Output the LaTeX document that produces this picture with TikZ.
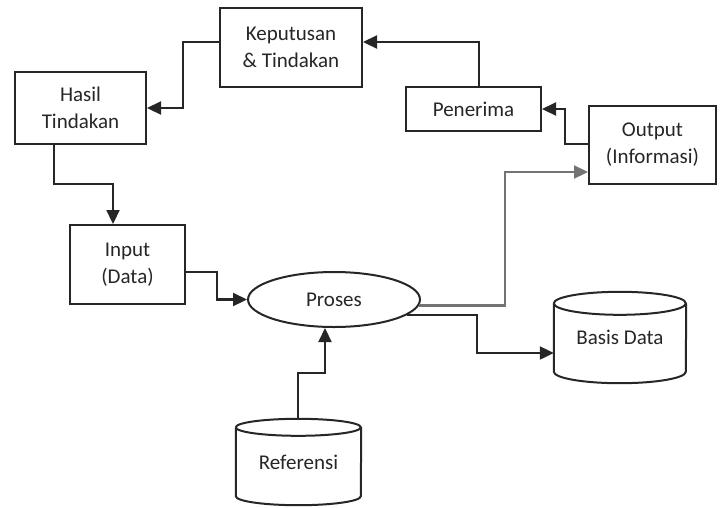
\documentclass[tikz,border=0pt]{standalone}
\usepackage{fontspec}
\setmainfont{Carlito}
\usetikzlibrary{arrows.meta,calc,shapes.geometric}
\begin{document}
\begin{tikzpicture}[x=1pt,y=-1pt,
  every node/.style={font=\fontsize{21}{27}\selectfont, text=black!85},
  box/.style={draw=black!85, line width=2pt, inner sep=0pt, align=center},
  oval/.style={ellipse, draw=black!85, line width=2pt, inner sep=0pt},
  cyl/.style={draw=black!85, line width=2pt},
  conn/.style={draw=black!85, line width=2.2pt, -{Triangle[length=14pt,width=13pt]}},
  lconn/.style={conn, draw=black!55, -{Triangle[length=14pt,width=13pt,fill=black!55]}},
]
\useasboundingbox (0,0) rectangle (722,507);

% boxes
\node[box, minimum width=142pt, minimum height=79pt] (kep) at (291,47.5) {Keputusan\\\& Tindakan};
\node[box, minimum width=131pt, minimum height=72pt] (hasil) at (80.5,108) {Hasil\\Tindakan};
\node[box, minimum width=115pt, minimum height=79pt] (input) at (127.5,264.5) {Input\\(Data)};
\node[box, minimum width=135pt, minimum height=44pt] (pen) at (473.5,109) {Penerima};
\node[box, minimum width=127pt, minimum height=78pt] (out) at (652.5,145) {Output\\(Informasi)};
\node[oval, minimum width=172pt, minimum height=55pt] (proses) at (334,299.5) {Proses};

% cylinders (text regions)
\node[inner sep=0pt, minimum width=132pt, minimum height=91pt] (basis) at (620,337.5) {Basis Data};
\node[inner sep=0pt, minimum width=125pt, minimum height=86pt] (ref) at (298.5,462) {Referensi};

% Basis Data cylinder
\draw[cyl] ($(basis.north west)+(0,11.5)$) arc[start angle=180, end angle=540, x radius=66pt, y radius=11.5pt];
\draw[cyl] ($(basis.north west)+(0,11.5)$) -- ($(basis.south west)+(0,-11.5)$)
  arc[start angle=180, end angle=360, x radius=66pt, y radius=11.5pt] -- ($(basis.north east)+(0,11.5)$);
% Referensi cylinder
\draw[cyl] ($(ref.north west)+(0,8.5)$) arc[start angle=180, end angle=540, x radius=62.5pt, y radius=8.5pt];
\draw[cyl] ($(ref.north west)+(0,8.5)$) -- ($(ref.south west)+(0,-9)$)
  arc[start angle=180, end angle=360, x radius=62.5pt, y radius=9pt] -- ($(ref.north east)+(0,8.5)$);

% connector bend points
\coordinate (b1) at (183,42);
\coordinate (b2) at (54,184);
\coordinate (b3) at (113,184);
\coordinate (b4) at (217,272);
\coordinate (b5) at (505,172);
\coordinate (b6) at (477,314);
\coordinate (b7) at (565,144);
\coordinate (b8) at (479,42);
\coordinate (b9) at (298,373);
\coordinate (b10) at (325,373);

% connectors
\draw[conn] (kep.west |- b1) -| (b1 |- hasil.east) -- (hasil.east);
\draw[conn] (b2 |- hasil.south) -- (b2) -| (b3 |- input.north);
\draw[conn] (input.east |- b4) -- (b4) |- (proses.west);
\draw[lconn] (proses.-4) -| (b5) -- (b5 -| out.west);
\draw[conn] (proses.-12) -| (b6 |- 0,353) -- (basis.west |- 0,353);
\draw[conn] (out.west |- b7) -| (b7 |- pen.east) -- (pen.east);
\draw[conn] (b8 |- pen.north) -- (b8) -- (b8 -| kep.east);
\draw[conn] (b9 |- ref.north) -- (b9) -| (b10 |- proses.south);
\end{tikzpicture}
\end{document}
